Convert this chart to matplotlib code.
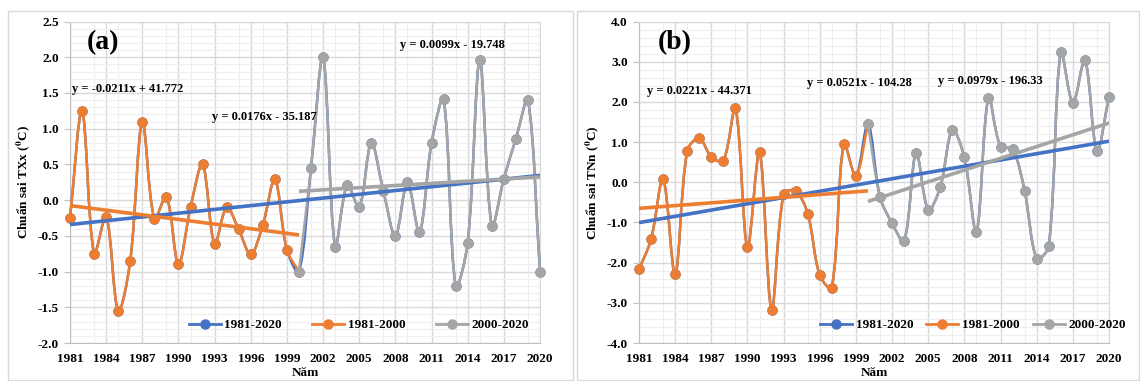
import numpy as np
import matplotlib
matplotlib.use("Agg")
import matplotlib.pyplot as plt
from matplotlib.path import Path
from matplotlib.patches import PathPatch, Rectangle
from matplotlib.lines import Line2D

plt.rcParams['font.family'] = ['Liberation Serif', 'DejaVu Serif']
plt.rcParams['font.weight'] = 'bold'
plt.rcParams['mathtext.fontset'] = 'stix'

years = list(range(1981, 2021))

txx = [-0.25, 1.25, -0.75, -0.23, -1.55, -0.85, 1.10, -0.26, 0.05, -0.90,
       -0.10, 0.50, -0.61, -0.10, -0.41, -0.76, -0.35, 0.29, -0.70, -1.00,
       0.45, 2.00, -0.65, 0.21, -0.10, 0.80, 0.13, -0.50, 0.25, -0.45,
       0.80, 1.41, -1.20, -0.60, 1.96, -0.36, 0.30, 0.86, 1.40, -1.00]

tnn = [-2.17, -1.42, 0.08, -2.29, 0.78, 1.10, 0.63, 0.53, 1.84, -1.62,
       0.75, -3.17, -0.29, -0.22, -0.78, -2.32, -2.62, 0.95, 0.15, 1.45,
       -0.37, -1.02, -1.47, 0.73, -0.69, -0.12, 1.30, 0.62, -1.24, 2.10,
       0.88, 0.83, -0.22, -1.90, -1.59, 3.24, 1.97, 3.04, 0.78, 2.13]

series_names = ['1981-2020', '1981-2000', '2000-2020']
series_ranges = [(1981, 2020), (1981, 2000), (2000, 2020)]
colors = ['#4472C4', '#ED7D31', '#A5A5A5']

eq_a = ['y = 0.0176x - 35.187', 'y = -0.0211x + 41.772', 'y = 0.0099x - 19.748']
eq_b = ['y = 0.0521x - 104.28', 'y = 0.0221x - 44.371', 'y = 0.0979x - 196.33']

W, H = 1140, 381
fig = plt.figure(figsize=(W / 100, H / 100), dpi=100)


def smooth_path(x, y, sx, sy):
    # Bezier smoothing with chord-length scaled tangents (computed in screen space)
    pts = np.column_stack([x, y]).astype(float)
    scr = pts * np.array([sx, sy])
    n = len(pts)
    verts = [pts[0]]
    codes = [Path.MOVETO]

    def dist(i, j):
        return np.hypot(*(scr[j] - scr[i]))

    for i in range(n - 1):
        i0 = max(i - 1, 0)
        i3 = min(i + 2, n - 1)
        p1, p2 = pts[i], pts[i + 1]
        d12 = dist(i, i + 1)
        if i > 0:
            d01 = dist(i0, i)
            c1 = p1 + (pts[i + 1] - pts[i0]) * d12 / (d01 + d12) / 3.0
        else:
            c1 = p1 + (p2 - p1) / 3.0
        if i + 2 < n:
            d23 = dist(i + 1, i3)
            c2 = p2 - (pts[i3] - pts[i]) * d12 / (d12 + d23) / 3.0
        else:
            c2 = p2 - (p2 - p1) / 3.0
        verts += [c1, c2, p2]
        codes += [Path.CURVE4] * 3
    return Path(verts, codes)


def panel(rect_px, box_px, values, ylim, ymaj, ymin, yfmt, ylabel, tag, eqs, eqpos,
          leg_center, colspace):
    l, r, b, t = rect_px
    ax = fig.add_axes([l / W, 1 - b / H, (r - l) / W, (b - t) / H])
    sx = (r - l) / (2020 - 1981)
    sy = (b - t) / (ylim[1] - ylim[0])
    bx0, bx1, by0, by1 = box_px
    fig.patches.append(Rectangle((bx0 / W, 1 - by1 / H), (bx1 - bx0) / W, (by1 - by0) / H,
                                 transform=fig.transFigure, fill=False,
                                 edgecolor='#d9d9d9', lw=1.0, zorder=0))
    ax.set_xlim(1981, 2020)
    ax.set_ylim(*ylim)
    ax.set_xticks(list(range(1981, 2021, 3)))
    ax.set_xticks(list(range(1981, 2021, 2)), minor=True)
    ax.set_yticks(np.arange(ylim[0], ylim[1] + 1e-9, ymaj))
    ax.set_yticks(np.arange(ylim[0], ylim[1] + 1e-9, ymin), minor=True)
    ax.yaxis.set_major_formatter(matplotlib.ticker.FormatStrFormatter(yfmt))
    ax.grid(which='major', color='#d9d9d9', lw=1.0, zorder=0)
    ax.grid(which='minor', color='#efefef', lw=0.8, zorder=0)
    ax.set_axisbelow(True)
    for s in ax.spines.values():
        s.set_color('#d9d9d9')
    ax.spines['left'].set_color('#bfbfbf')
    ax.spines['bottom'].set_color('#bfbfbf')
    ax.tick_params(which='major', labelsize=9.5, length=4, color='#bfbfbf', pad=4)
    ax.tick_params(which='minor', length=0)
    ax.tick_params(axis='x', length=0, pad=7)
    for lab in ax.get_xticklabels() + ax.get_yticklabels():
        lab.set_fontweight('bold')
    ax.set_xlabel('Năm', fontsize=9.5, fontweight='bold', labelpad=2)
    ax.set_ylabel(ylabel, fontsize=9.5, fontweight='bold', labelpad=4)

    handles = []
    for k, (name, (y0, y1)) in enumerate(zip(series_names, series_ranges)):
        xs = [yy for yy in years if y0 <= yy <= y1]
        vs = [values[years.index(yy)] for yy in xs]
        p = smooth_path(xs, vs, sx, sy)
        ax.add_patch(PathPatch(p, fill=False, edgecolor=colors[k], lw=1.8,
                               zorder=3 + k, clip_on=False))
        ax.plot(xs, vs, ls='none', marker='o', ms=6.5, color=colors[k],
                zorder=3.5 + k, clip_on=False)
        handles.append(Line2D([], [], color=colors[k], lw=2, marker='o', ms=6.5))
    for k, (name, (y0, y1)) in enumerate(zip(series_names, series_ranges)):
        xs = np.array([yy for yy in years if y0 <= yy <= y1])
        vs = np.array([values[years.index(yy)] for yy in xs])
        c = np.polyfit(xs, vs, 1)
        ax.plot([xs[0], xs[-1]], np.polyval(c, [xs[0], xs[-1]]), color=colors[k],
                lw=2.6, zorder=7 + k, solid_capstyle='butt')

    ax.text(tag[1][0], tag[1][1], tag[0], transform=ax.transAxes, fontsize=20,
            fontweight='bold', ha='left', va='center', zorder=20)
    for s, (px, py) in zip(eqs, eqpos):
        ax.text((px - l) / (r - l), (b - py) / (b - t), s, transform=ax.transAxes,
                fontsize=9, fontweight='bold', ha='left', va='center', zorder=20)
    leg = ax.legend(handles, series_names, loc='center', ncol=3, frameon=False,
                    bbox_to_anchor=((leg_center[0] - l) / (r - l), (b - leg_center[1]) / (b - t)),
                    handlelength=2.4, handletextpad=0.3,
                    columnspacing=colspace, prop={'weight': 'bold', 'size': 9.5})
    leg.set_zorder(25)
    return ax


panel((70, 540, 343, 21.5), (8, 573, 10.5, 379.5), txx, (-2.0, 2.5), 0.5, 0.1, '%.1f',
      'Chuẩn sai TXx ($^{\\mathbf{0}}$C)', ('(a)', (0.035, 0.935)), eq_a,
      [(212, 117), (72, 89), (400, 45)], (359, 325), 2.3)
panel((639, 1109, 343, 21.5), (577, 1139, 10.5, 379.5), tnn, (-4.0, 4.0), 1.0, 0.2, '%.1f',
      'Chuẩn sai TNn ($^{\\mathbf{0}}$C)', ('(b)', (0.04, 0.935)), eq_b,
      [(807, 83), (647, 91), (938, 81)], (973, 325), 1.0)

fig.savefig('out.png', dpi=100)
